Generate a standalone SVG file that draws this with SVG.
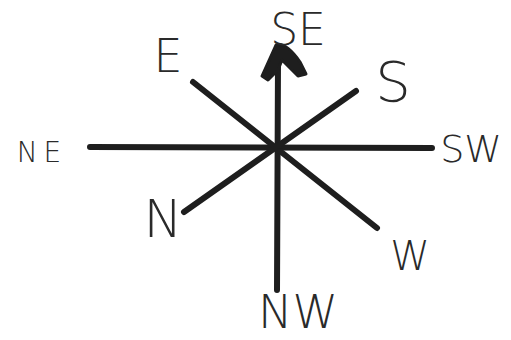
<svg xmlns="http://www.w3.org/2000/svg" width="511" height="340" viewBox="0 0 511 340">
<style>
.ln{stroke:#1e1e1e;stroke-width:6;stroke-linecap:round;fill:none}
.lb{font-family:"DejaVu Sans","Liberation Sans",Arial,sans-serif;font-weight:200;fill:#2a2a2a;text-anchor:middle}
</style>
<rect width="511" height="340" fill="#fff"/>
<g id="connectors">
<line class="ln" x1="278" y1="62" x2="277" y2="290"/>
<line class="ln" x1="90" y1="147" x2="432" y2="148"/>
<line class="ln" x1="193" y1="82" x2="377" y2="228"/>
<line class="ln" x1="356" y1="91" x2="184" y2="212"/>
<path d="M262 76 L276 45 Q286 42 300 62 L306 74 L298 76 L282 60 L278 70 L268 80 Z" fill="#1e1e1e" stroke="#1e1e1e" stroke-width="3" stroke-linejoin="round"/>
</g>
<g id="E"><text class="lb" x="168" y="72" font-size="46">E</text></g>
<g id="SE"><text class="lb" x="298" y="45" font-size="44">SE</text></g>
<g id="S"><text class="lb" x="393" y="101" font-size="56">S</text></g>
<g id="NE"><text class="lb" x="42" y="162" font-size="28" letter-spacing="6">NE</text></g>
<g id="SW"><text class="lb" x="471" y="162" font-size="38">SW</text></g>
<g id="N"><text class="lb" x="163" y="237" font-size="52">N</text></g>
<g id="W"><text class="lb" x="410" y="270" font-size="40">W</text></g>
<g id="NW"><text class="lb" x="298" y="328" font-size="46">NW</text></g>
</svg>
